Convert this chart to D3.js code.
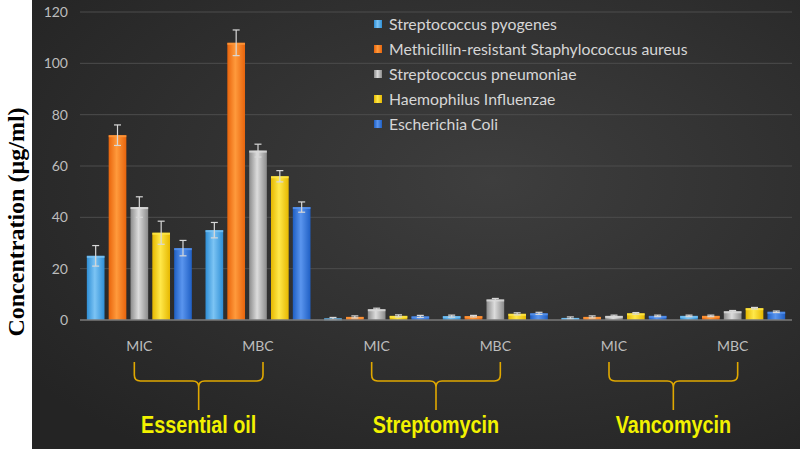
<!DOCTYPE html>
<html>
<head>
<meta charset="utf-8">
<script src="https://cdn.jsdelivr.net/npm/d3@7"></script>
<style>
  body { margin: 0; background: #fff; }
  svg { display: block; }
</style>
</head>
<body>
<script>
// chart data
var categories = ["MIC", "MBC", "MIC", "MBC", "MIC", "MBC"];
var drugs = ["Essential oil", "Streptomycin", "Vancomycin"];
var seriesNames = ["Streptococcus pyogenes", "Methicillin-resistant Staphylococcus aureus",
  "Streptococcus pneumoniae", "Haemophilus Influenzae", "Escherichia Coli"];
var pyogenes   = [25, 35, 0.6, 1.5, 0.8, 1.6];
var mrsa       = [72, 108, 1.2, 1.5, 1.2, 1.6];
var pneumoniae = [44, 66, 4.2, 8, 1.6, 3.4];
var influenzae = [34, 56, 1.6, 2.4, 2.6, 4.6];
var ecoli      = [28, 44, 1.4, 2.6, 1.6, 3.2];
var errPyogenes   = [4, 3, 0.4, 0.4, 0.4, 0.3];
var errMrsa       = [4, 5, 0.4, 0.3, 0.4, 0.3];
var errPneumoniae = [4, 2.5, 0.4, 0.4, 0.3, 0.3];
var errInfluenzae = [4.5, 2.2, 0.4, 0.4, 0.3, 0.3];
var errEcoli      = [3, 2, 0.4, 0.4, 0.3, 0.3];
var yTicks = [0, 20, 40, 60, 80, 100, 120];

var allValues = [pyogenes, mrsa, pneumoniae, influenzae, ecoli];
var allErrors = [errPyogenes, errMrsa, errPneumoniae, errInfluenzae, errEcoli];
var colors = [
  ["#2f8fd6", "#7cc4f4"],
  ["#e8640c", "#ff9a3c"],
  ["#8c8c8c", "#dcdcdc"],
  ["#e6b800", "#ffe84a"],
  ["#1f5fc4", "#5a95ee"]
];

var W = 800, H = 449;
var margin = {top: 12, right: 8, bottom: 129, left: 80};
var width = W - margin.left - margin.right,
    height = H - margin.top - margin.bottom;

var svg = d3.select("body").append("svg")
    .attr("width", W)
    .attr("height", H);

var defs = svg.append("defs");
var bg = defs.append("radialGradient").attr("id", "bg")
    .attr("cx", "60%").attr("cy", "40%").attr("r", "75%");
bg.append("stop").attr("offset", "0%").attr("stop-color", "#3e3e3e");
bg.append("stop").attr("offset", "100%").attr("stop-color", "#242424");

colors.forEach(function(c, i) {
  var g = defs.append("linearGradient").attr("id", "bar" + i)
      .attr("x1", "0%").attr("x2", "100%").attr("y1", "0%").attr("y2", "0%");
  g.append("stop").attr("offset", "0%").attr("stop-color", c[0]);
  g.append("stop").attr("offset", "45%").attr("stop-color", c[1]);
  g.append("stop").attr("offset", "100%").attr("stop-color", c[0]);
});

// white strip on the left + dark panel
svg.append("rect").attr("x", 0).attr("y", 0).attr("width", W).attr("height", H).attr("fill", "#fff");
svg.append("rect").attr("x", 32).attr("y", 0).attr("width", W - 32).attr("height", H).attr("fill", "url(#bg)");

var g = svg.append("g")
    .attr("transform", "translate(" + margin.left + "," + margin.top + ")");

var x0 = d3.scaleBand().domain(d3.range(categories.length)).range([0, width]);
var x1 = d3.scaleBand().domain(d3.range(seriesNames.length)).range([0, 105]).paddingInner(0.19);
var y = d3.scaleLinear().domain([0, 120]).range([height, 0]);
var off = (x0.bandwidth() - 105) / 2;

// gridlines
g.append("g").selectAll("line").data(yTicks.slice(1)).enter().append("line")
    .attr("x1", 0).attr("x2", width)
    .attr("y1", function(d) { return y(d); }).attr("y2", function(d) { return y(d); })
    .attr("stroke", "#4c4c4c").attr("stroke-width", 1);

// y axis labels
var yAxis = g.append("g").call(d3.axisLeft(y).tickValues(yTicks).tickSize(0).tickPadding(12));
yAxis.select(".domain").remove();
yAxis.selectAll("text").attr("fill", "#bdbdbd").style("font-family", "Lato, sans-serif").style("font-size", "14px");

// bars
allValues.forEach(function(vals, s) {
  var grp = g.append("g");
  grp.selectAll("rect").data(vals).enter().append("rect")
      .attr("x", function(d, i) { return x0(i) + off + x1(s); })
      .attr("y", function(d) { return y(d); })
      .attr("width", x1.bandwidth())
      .attr("height", function(d) { return height - y(d); })
      .attr("fill", "url(#bar" + s + ")");
  grp.selectAll("rect.top").data(vals).enter().append("rect")
      .attr("class", "top")
      .attr("x", function(d, i) { return x0(i) + off + x1(s); })
      .attr("y", function(d) { return y(d); })
      .attr("width", x1.bandwidth())
      .attr("height", 2)
      .attr("fill", colors[s][1]).attr("opacity", 0.8);
  // error bars
  var errs = allErrors[s];
  var eb = grp.selectAll("g.err").data(vals).enter().append("g").attr("class", "err")
      .attr("stroke", "#d8d8d8").attr("stroke-width", 1.2);
  eb.append("line")
      .attr("x1", function(d, i) { return x0(i) + off + x1(s) + x1.bandwidth() / 2; })
      .attr("x2", function(d, i) { return x0(i) + off + x1(s) + x1.bandwidth() / 2; })
      .attr("y1", function(d, i) { return y(d - errs[i]); })
      .attr("y2", function(d, i) { return y(d + errs[i]); });
  [1, -1].forEach(function(sign) {
    eb.append("line")
        .attr("x1", function(d, i) { return x0(i) + off + x1(s) + x1.bandwidth() / 2 - 3.5; })
        .attr("x2", function(d, i) { return x0(i) + off + x1(s) + x1.bandwidth() / 2 + 3.5; })
        .attr("y1", function(d, i) { return y(d + sign * errs[i]); })
        .attr("y2", function(d, i) { return y(d + sign * errs[i]); });
  });
});

// baseline
g.append("line").attr("x1", 0).attr("x2", width).attr("y1", height).attr("y2", height)
    .attr("stroke", "#7a7a7a").attr("stroke-width", 1.5);

// category labels
g.append("g").selectAll("text").data(categories).enter().append("text")
    .attr("x", function(d, i) { return x0(i) + x0.bandwidth() / 2; })
    .attr("y", height + 31)
    .attr("text-anchor", "middle")
    .attr("fill", "#bdbdbd")
    .style("font-family", "Lato, sans-serif").style("font-size", "14px")
    .text(function(d) { return d; });

// braces + drug labels
drugs.forEach(function(name, k) {
  var xl = x0(2 * k) + x0.bandwidth() / 2 - 5,
      xr = x0(2 * k + 1) + x0.bandwidth() / 2 + 5,
      xm = (xl + xr) / 2,
      top = height + 42, mid = height + 61, tip = height + 90, r = 6;
  var p = d3.path();
  p.moveTo(xl, top);
  p.lineTo(xl, mid - r);
  p.quadraticCurveTo(xl, mid, xl + r, mid);
  p.lineTo(xm - r, mid);
  p.quadraticCurveTo(xm, mid, xm, mid + r);
  p.lineTo(xm, tip);
  p.moveTo(xm, mid + r);
  p.quadraticCurveTo(xm, mid, xm + r, mid);
  p.lineTo(xr - r, mid);
  p.quadraticCurveTo(xr, mid, xr, mid - r);
  p.lineTo(xr, top);
  g.append("path").attr("d", p.toString())
      .attr("fill", "none").attr("stroke", "#e0a800").attr("stroke-width", 1.6);
  g.append("text")
      .attr("transform", "translate(" + xm + "," + (height + 113) + ") scale(0.86,1)")
      .attr("text-anchor", "middle")
      .attr("fill", "#f2f200")
      .style("font-family", "'Liberation Sans', Arial, sans-serif")
      .style("font-weight", "bold").style("font-size", "23px")
      .text(name);
});

// legend
var legend = svg.append("g").attr("transform", "translate(374,24)");
seriesNames.forEach(function(n, i) {
  var row = legend.append("g").attr("transform", "translate(0," + (i * 25) + ")");
  row.append("rect").attr("x", 0).attr("y", -4).attr("width", 8).attr("height", 8)
      .attr("fill", "url(#bar" + i + ")");
  row.append("text").attr("x", 15).attr("y", 5.5)
      .attr("fill", "#d6d6d6")
      .style("font-family", "Lato, sans-serif").style("font-size", "15.8px")
      .text(n);
});

// y axis title
svg.append("text")
    .attr("transform", "translate(24,222) rotate(-90)")
    .attr("text-anchor", "middle")
    .attr("fill", "#000")
    .style("font-family", "'Liberation Serif', 'Times New Roman', serif")
    .style("font-weight", "bold").style("font-size", "24px")
    .text("Concentration (\u00b5g/ml)");
</script>
</body>
</html>
